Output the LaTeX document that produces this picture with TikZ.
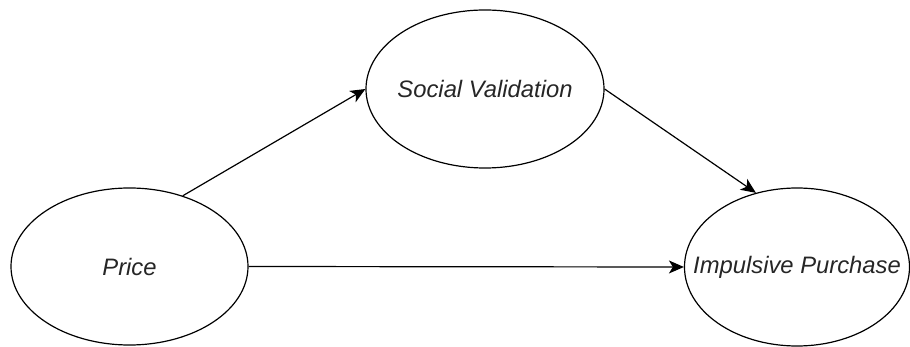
\documentclass[tikz,border=0pt]{standalone}
\usepackage{fontspec}
\setmainfont{Liberation Sans}
\usepackage{tikz}
\usetikzlibrary{positioning}
\usetikzlibrary{shapes.geometric}
\usetikzlibrary{arrows.meta}
\tikzset{
    construct/.style = {ellipse, draw, line width=1.2pt, inner xsep=-30pt, inner ysep=0pt, text=black!85,
        font=\itshape\fontsize{23.8}{28}\selectfont},
    link/.style = {-{Stealth[length=15pt, width=13pt, inset=4pt]}, line width=1.2pt}
}

\begin{document}
\begin{tikzpicture}[x=1pt, y=-1pt]
    \useasboundingbox (0,0) rectangle (910,347);
    % constructs
    \node [style=construct, minimum width=237pt, minimum height=157pt] (price) at (129.5, 266.5) {Price};
    \node [style=construct, minimum width=238pt, minimum height=158pt] (social) at (485, 89) {Social Validation};
    \node [style=construct, minimum width=225pt, minimum height=158pt] (impulse) at (797, 267) {Impulsive Purchase};
    % paths
    \draw [style=link] (price.53.5) to (social.west);
    \draw [style=link] (social.east) to (impulse.119.5);
    \draw [style=link] (price.east) to (impulse.west);
\end{tikzpicture}
\end{document}
